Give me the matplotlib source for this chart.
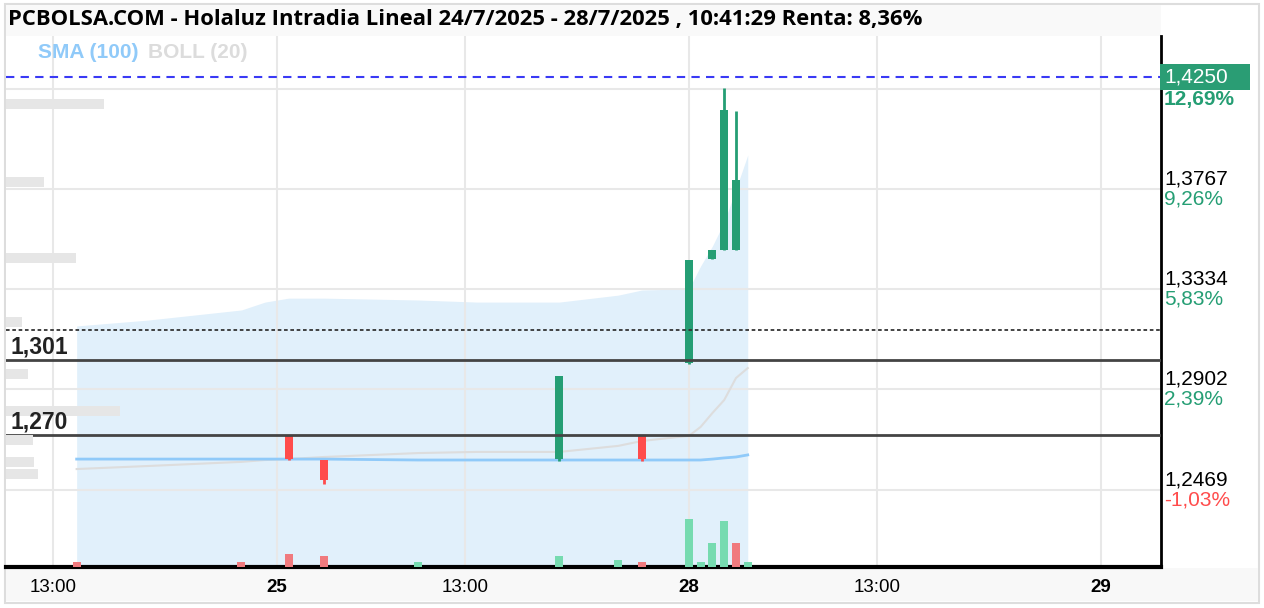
import matplotlib.pyplot as plt
from matplotlib.patches import Rectangle

plt.rcParams['font.family'] = ['Liberation Sans', 'DejaVu Sans']

# 15 minute bars, 9:00 .. 17:30 -> 35 slots per trading day
day_index = {24: 0, 25: 1, 28: 2, 29: 3}
slots_per_day = 35

candle_times = ['25 09:15', '25 10:00', '25 15:00', '25 16:45',
                '28 09:00', '28 09:30', '28 09:45', '28 10:00']
candle_open = [1.2705, 1.2597, 1.2600, 1.2705, 1.3017, 1.3464, 1.3504, 1.3504]
candle_high = [1.2705, 1.2597, 1.2961, 1.2705, 1.3460, 1.3504, 1.4202, 1.4105]
candle_low = [1.2598, 1.2494, 1.2594, 1.2594, 1.3012, 1.3464, 1.3504, 1.3504]
candle_close = [1.2600, 1.2511, 1.2961, 1.2600, 1.3460, 1.3504, 1.4108, 1.3806]

vol_times = ['24 13:30', '24 17:00', '25 09:15', '25 10:00', '25 12:00', '25 15:00', '25 16:15',
             '25 16:45', '28 09:00', '28 09:15', '28 09:30', '28 09:45', '28 10:00', '28 10:15']
vol_values = [5, 5, 13, 11, 5, 11, 7, 5, 48, 5, 24, 46, 24, 5]
vol_up = [False, False, False, False, True, True, True, False, True, True, True, True, False, True]

ind_times = ['24 13:30', '24 15:00', '24 17:00', '24 17:30', '25 09:15', '25 10:00', '25 12:00',
             '25 13:15', '25 15:00', '25 16:15', '25 16:45', '25 17:30', '28 09:00', '28 09:15',
             '28 09:30', '28 09:45', '28 10:00', '28 10:15']
boll_upper = [1.3176, 1.3201, 1.3245, 1.3279, 1.3296, 1.3296, 1.3288, 1.3279, 1.3279,
              1.3309, 1.3331, 1.3335, 1.3335, 1.3435, 1.3521, 1.3625, 1.3767, 1.3914]
boll_mid = [1.2558, 1.2571, 1.2589, 1.2597, 1.2601, 1.2610, 1.2627, 1.2632, 1.2632,
            1.2658, 1.2679, 1.2696, 1.2701, 1.2740, 1.2800, 1.2856, 1.2951, 1.2994]
sma100 = [1.2601, 1.2601, 1.2601, 1.2601, 1.2601, 1.2601, 1.2597, 1.2597, 1.2597,
          1.2597, 1.2597, 1.2597, 1.2597, 1.2597, 1.2601, 1.2606, 1.2610, 1.2619]

profile_price = [1.4134, 1.3797, 1.3469, 1.3193, 1.2968, 1.2809, 1.2683, 1.2588, 1.2537]
profile_vol = [85, 33, 61, 14, 19, 99, 23, 24, 28]

level_prices = [1.3029, 1.2703]
level_labels = ['1,301', '1,270']
prev_close = 1.3158
last_price = 1.4250
last_label = '1,4250'

ytick_prices = [1.2469, 1.2902, 1.3334, 1.3767, 1.4199]
ytick_labels = ['1,2469', '1,2902', '1,3334', '1,3767', '1,4199']
ytick_pct = ['-1,03%', '2,39%', '5,83%', '9,26%', '12,69%']

xtick_times = ['24 13:00', '25 09:00', '25 13:00', '28 09:00', '28 13:00', '29 09:00']
xtick_labels = ['13:00', '25', '13:00', '28', '13:00', '29']

title = 'PCBOLSA.COM - Holaluz Intradia Lineal 24/7/2025 - 28/7/2025 , 10:41:29 Renta: 8,36%'

GREEN = '#259e74'
RED = '#ff4c4c'
VGREEN = '#76dbb0'
VRED = '#f07a7e'


def to_slot(t):
    d, hm = t.split()
    h, m = hm.split(':')
    return day_index[int(d)] * slots_per_day + (int(h) - 9) * 4 + int(m) / 15


W, H = 1264, 608
fig = plt.figure(figsize=(W / 100, H / 100), dpi=100)

# frame, title band and x-axis band
fig.patches.append(Rectangle((5 / W, 5 / H), 1254 / W, 599 / H, transform=fig.transFigure,
                             facecolor='white', edgecolor='#dddddd', lw=1.5, zorder=-10))
fig.patches.append(Rectangle((6 / W, (H - 36) / H), 1155 / W, 31 / H, transform=fig.transFigure,
                             facecolor='#f9f9f9', edgecolor='none', zorder=-9))
fig.patches.append(Rectangle((6 / W, (H - 601) / H), 1252 / W, 33 / H, transform=fig.transFigure,
                             facecolor='#f8f8f8', edgecolor='none', zorder=-9))

ax = fig.add_axes([6 / W, 41 / H, 1155 / W, 531 / H])
ax.set_xlim(12.0, 110.1)
ax.set_ylim(1.2135, 1.4428)

ax.set_yticks(ytick_prices)
ax.set_xticks([to_slot(t) for t in xtick_times])
ax.set_xticklabels(xtick_labels, fontsize=13.5)
for lab in ax.get_xticklabels():
    if ':' not in lab.get_text():
        lab.set_fontweight('bold')
ax.tick_params(axis='both', length=0, labelleft=False, pad=9)
ax.grid(True, color='#e8e8e8', lw=1.5, zorder=0)
for s in ['top', 'left']:
    ax.spines[s].set_visible(False)
ax.spines['bottom'].set_linewidth(3)
ax.spines['right'].set_linewidth(2)

ix = [to_slot(t) for t in ind_times]
ax.fill_between(ix, boll_upper, 1.2135, color='#e1f0fb', lw=0, zorder=1)
ax.plot(ix, boll_mid, color='#dddddd', lw=1.5, zorder=2)
ax.plot(ix, sma100, color='#90caf9', lw=2, zorder=2)

# candles
cx = [to_slot(t) for t in candle_times]
for x, o, h, l, c in zip(cx, candle_open, candle_high, candle_low, candle_close):
    col = GREEN if c >= o else RED
    ax.vlines(x, l, h, color=col, lw=2, zorder=3)
    ax.bar(x, c - o, bottom=o, width=0.68, color=col, zorder=3)

# reference lines
ax.axhline(last_price, color='#3a3af5', lw=1.5, ls=(0, (4, 3)), zorder=4)
ax.axhline(prev_close, color='#333333', lw=1.3, ls=(0, (2, 1.5)), zorder=4)
for p in level_prices:
    ax.axhline(p, color='#444444', lw=2, zorder=4)

# right price scale
for p, lab, pct in zip(ytick_prices, ytick_labels, ytick_pct):
    ax.annotate(lab, xy=(1, p), xycoords=ax.get_yaxis_transform(), xytext=(3, 10),
                textcoords='offset pixels', fontsize=15, color='black', va='center',
                annotation_clip=False)
    ax.annotate(pct, xy=(1, p), xycoords=ax.get_yaxis_transform(), xytext=(3, -10),
                textcoords='offset pixels', fontsize=15, va='center', annotation_clip=False,
                color=RED if pct.startswith('-') else GREEN,
                fontweight='bold' if pct == ytick_pct[-1] else 'normal')

span = 1.4428 - 1.2135
box_h = span * 26 / 531
ax.add_patch(Rectangle((0.9995, last_price - box_h / 2), 90 / 1155, box_h,
                       transform=ax.get_yaxis_transform(), facecolor='#2a9d74',
                       edgecolor='none', clip_on=False, zorder=6))
ax.annotate(last_label, xy=(1, last_price), xycoords=ax.get_yaxis_transform(), xytext=(3, 0),
            textcoords='offset pixels', fontsize=15, color='white', va='center',
            annotation_clip=False, zorder=7)

# volume by price (left)
axp = ax.twiny()
axp.set_xlim(0, 1000)
axp.barh(profile_price, profile_vol, height=span * 10 / 531, color='#e6e6e6', zorder=1)
axp.axis('off')

# volume bars
axv = ax.twinx()
axv.set_ylim(0, max(vol_values) * 11)
vx = [to_slot(t) for t in vol_times]
axv.bar(vx, vol_values, width=0.68, color=[VGREEN if u else VRED for u in vol_up])
axv.axis('off')

# level labels on top of everything
for p, lab in zip(level_prices, level_labels):
    axv.annotate(lab, xy=(0, p), xycoords=ax.get_yaxis_transform(), xytext=(4, 13),
                 textcoords='offset pixels', fontsize=16.5, fontweight='bold', color='#222222',
                 va='center', ha='left', zorder=5)

fig.text(8 / W, 1 - 19 / H, title, fontsize=15.8, fontweight='bold', va='center',
         family=['Open Sans', 'DejaVu Sans'])
fig.text(38 / W, 1 - 52 / H, 'SMA (100)', fontsize=15, fontweight='bold', color='#90caf9', va='center')
fig.text(148 / W, 1 - 52 / H, 'BOLL (20)', fontsize=15, fontweight='bold', color='#dcdcdc', va='center')

fig.savefig('out.png', dpi=100)
